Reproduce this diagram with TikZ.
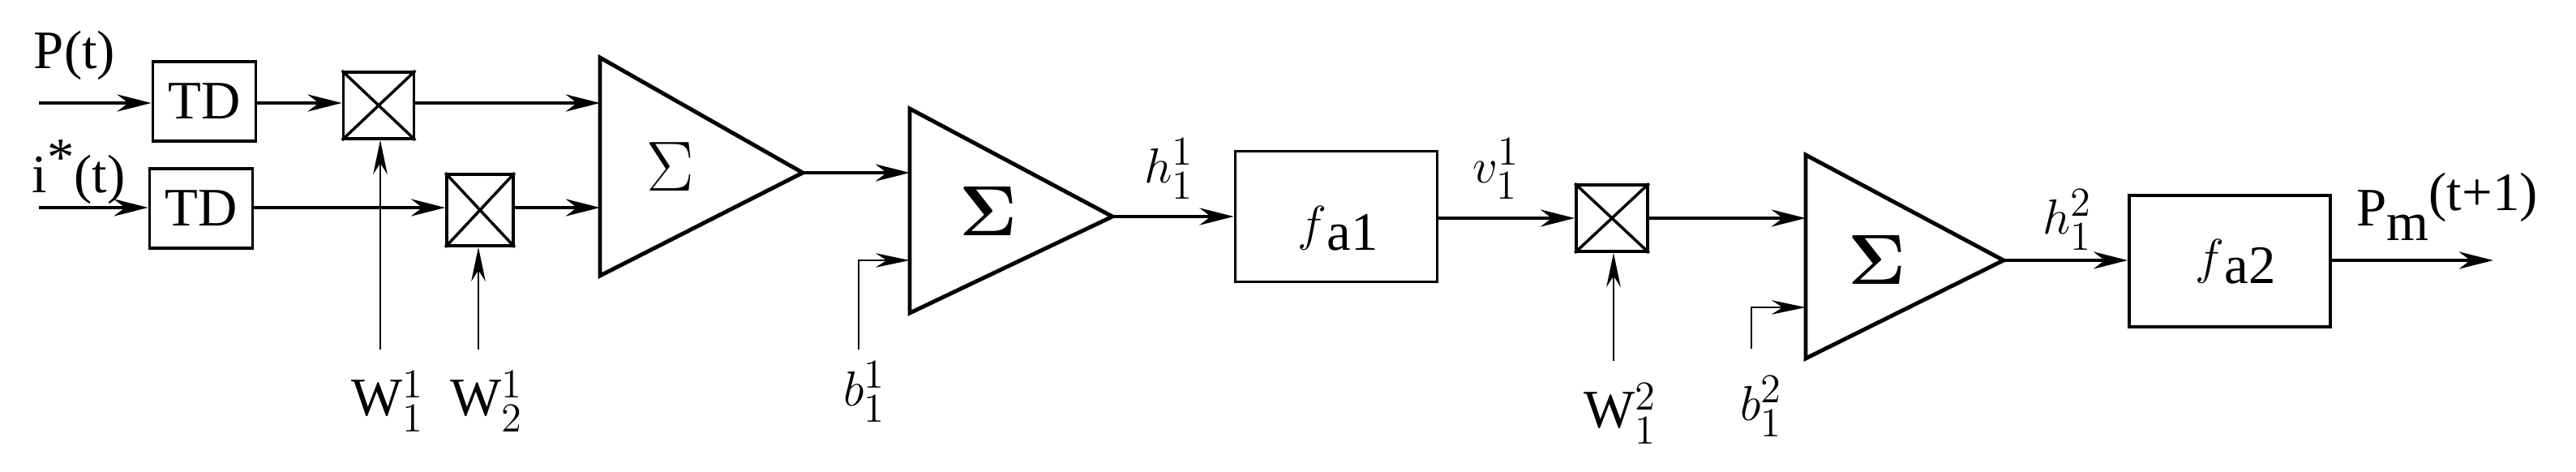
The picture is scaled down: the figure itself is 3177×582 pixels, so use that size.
\documentclass[tikz,border=0pt]{standalone}
\usepackage{amsmath}
\usepackage{fontspec}
\setmainfont{Liberation Serif}
\newfontfamily\diagfont{Liberation Serif}
\usetikzlibrary{arrows.meta}
\begin{document}
\begin{tikzpicture}[x=0.01cm,y=-0.01cm,
  font=\diagfont\fontsize{19}{22}\selectfont,
  arr/.style={line width=1.3pt,-{Stealth[length=12pt,width=6pt]}},
  thinarr/.style={line width=0.8pt,-{Stealth[length=12pt,width=5pt]}},
  blk/.style={draw,line width=1pt,inner sep=0pt},
  sumtri/.style={line width=1.4pt},
  lbl/.style={inner sep=0pt}]
\useasboundingbox (0,0) rectangle (3177,582);
% blocks
\node[blk,minimum width=1.27cm,minimum height=0.98cm] (tdA) at (252,125) {TD};
\node[blk,minimum width=1.27cm,minimum height=0.98cm] (tdB) at (248,257) {TD};
\node[blk,minimum width=0.87cm,minimum height=0.82cm] (m1) at (467,130) {};
\node[blk,minimum width=0.82cm,minimum height=0.88cm] (m2) at (592,259) {};
\node[blk,minimum width=2.49cm,minimum height=1.61cm] (fa1) at (1648,267) {};
\node[blk,minimum width=0.88cm,minimum height=0.82cm] (m3) at (1988,269) {};
\node[blk,minimum width=2.48cm,minimum height=1.62cm] (fa2) at (2750,322) {};
\foreach \m in {m1,m2,m3}{\draw[line width=1pt] (\m.north west)--(\m.south east) (\m.north east)--(\m.south west);}
\node[lbl] (fl1) at (1650,282) {$f$\raisebox{-0.4ex}{a1}};
\node[lbl] (fl2) at (2757,323) {$f$\raisebox{-0.4ex}{a2}};
% summation triangles
\coordinate (s1) at (740,71); \coordinate (s1b) at (740,340); \coordinate (s1o) at (990,213);
\coordinate (s2) at (1122,134); \coordinate (s2b) at (1122,386); \coordinate (s2o) at (1372,267);
\coordinate (s3) at (2227,191); \coordinate (s3b) at (2227,442); \coordinate (s3o) at (2471,321);
\draw[sumtri] (s1)--(s1o)--(s1b)--cycle;
\draw[sumtri] (s2)--(s2o)--(s2b)--cycle;
\draw[sumtri] (s3)--(s3o)--(s3b)--cycle;
\node[lbl,font=\fontsize{24}{26}\selectfont] (sg1) at (827,206) {$\Sigma$};
\node[lbl,font=\fontsize{24}{26}\selectfont] (sg2) at (1219,260) {$\boldsymbol{\Sigma}$};
\node[lbl,font=\fontsize{24}{26}\selectfont] (sg3) at (2315,320) {$\boldsymbol{\Sigma}$};
% inputs
\coordinate (inP) at (48,127); \coordinate (inI) at (48,256);
\node[lbl] (lP) at (92,68) {P(t)};
\node[lbl] (lI) at (97,212) {i\raisebox{0.7ex}{*}(t)};
\draw[arr] (inP) -- (tdA.west|-inP);
\draw[arr] (inI) -- (tdB.west|-inI);
\draw[arr] (tdA.east|-inP) -- (m1.west|-inP);
\draw[arr] (tdB.east|-inI) -- (m2.west|-inI);
\coordinate (e1) at (740,127); \coordinate (e2) at (740,256);
\draw[arr] (m1.east|-inP) -- (e1);
\draw[arr] (m2.east|-inI) -- (e2);
% weights
\coordinate (w1) at (469,431); \coordinate (w2) at (590,431); \coordinate (w3) at (1990,445);
\draw[thinarr] (w1) -- (w1|-m1.south);
\draw[thinarr] (w2) -- (w2|-m2.south);
\draw[thinarr] (w3) -- (w3|-m3.south);
\node[lbl] (lw1) at (478,495) {W$^{1}_{1}$};
\node[lbl] (lw2) at (600,495) {W$^{1}_{2}$};
\node[lbl] (lw3) at (1998,510) {W$^{2}_{1}$};
% sums chain
\coordinate (e3) at (1122,213);
\draw[arr] (s1o) -- (e3);
\coordinate (bb1) at (1059,431); \coordinate (bb1c) at (1059,321); \coordinate (bb1e) at (1122,321);
\draw[thinarr] (bb1) -- (bb1c) -- (bb1e);
\node[lbl] (lb1) at (1066,483) {$b^{1}_{1}$};
\draw[arr] (s2o) -- (fa1.west|-s2o);
\node[lbl] (lh1) at (1442,208) {$h^{1}_{1}$};
\draw[arr] (fa1.east|-m3) -- (m3.west);
\node[lbl] (lv1) at (1845,208) {$v^{1}_{1}$};
\coordinate (e4) at (2227,269);
\draw[arr] (m3.east) -- (e4);
\coordinate (bb2) at (2160,430); \coordinate (bb2c) at (2160,379); \coordinate (bb2e) at (2227,379);
\draw[thinarr] (bb2) -- (bb2c) -- (bb2e);
\node[lbl] (lb2) at (2172,501) {$b^{2}_{1}$};
\draw[arr] (s3o) -- (fa2.west|-s3o);
\node[lbl] (lh2) at (2550,271) {$h^{2}_{1}$};
\coordinate (out) at (3075,321);
\draw[arr] (fa2.east|-out) -- (out);
\node[lbl] (lout) at (3018,255) {P\raisebox{-0.6ex}{m}\raisebox{0.6ex}{(t+1)}};
\end{tikzpicture}
\end{document}
